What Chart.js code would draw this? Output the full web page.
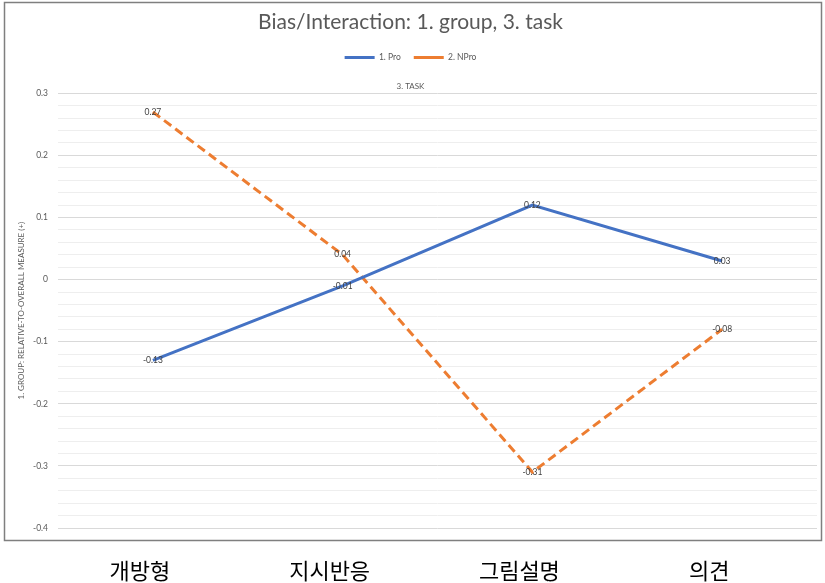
<!DOCTYPE html>
<html>
<head>
<meta charset="utf-8">
<script src="https://cdn.jsdelivr.net/npm/chart.js@4/dist/chart.umd.min.js"></script>
<style>
html,body{margin:0;padding:0;background:#fff;}
#wrap{width:825px;height:583px;position:relative;}
</style>
</head>
<body>
<div id="wrap"><canvas id="c" width="825" height="583"></canvas></div>
<script>
const categories = ["개방형", "지시반응", "그림설명", "의견"];
const seriesNames = ["1. Pro", "2. NPro"];
const proValues = [-0.13, -0.01, 0.12, 0.03];
const nproValues = [0.27, 0.04, -0.31, -0.08];
const yMin = -0.4, yMax = 0.3, yMinorStep = 0.02;
const chartTitle = "Bias/Interaction: 1. group, 3. task";
const subTitle = "3. TASK";
const yTitle = "1. GROUP: RELATIVE-TO-OVERALL MEASURE (+)";

const frame = {
  id: 'frame',
  beforeDraw(chart) {
    const ctx = chart.ctx;
    ctx.save();
    ctx.fillStyle = '#fff';
    ctx.fillRect(0, 0, chart.width, chart.height);
    ctx.restore();
  },
  afterDraw(chart) {
    const ctx = chart.ctx;
    ctx.save();
    ctx.strokeStyle = '#7f7f7f';
    ctx.lineWidth = 1.5;
    ctx.strokeRect(4.5, 2.5, 817, 538);
    ctx.restore();
  }
};

const valueLabels = {
  id: 'valueLabels',
  afterDatasetsDraw(chart) {
    const ctx = chart.ctx;
    ctx.save();
    ctx.font = '8.5px Lato, "Liberation Sans", sans-serif';
    ctx.fillStyle = '#404040';
    ctx.textAlign = 'center';
    ctx.textBaseline = 'middle';
    chart.data.datasets.forEach((ds, i) => {
      const meta = chart.getDatasetMeta(i);
      meta.data.forEach((pt, j) => {
        ctx.fillText(String(ds.data[j]), pt.x, pt.y);
      });
    });
    ctx.restore();
  }
};

new Chart(document.getElementById('c'), {
  type: 'line',
  data: {
    labels: categories,
    datasets: [
      {
        label: seriesNames[0],
        data: proValues,
        borderColor: '#4472C4',
        backgroundColor: '#4472C4',
        borderWidth: 3,
        pointRadius: 0,
        tension: 0
      },
      {
        label: seriesNames[1],
        data: nproValues,
        borderColor: '#ED7D31',
        backgroundColor: '#ED7D31',
        borderWidth: 3,
        borderDash: [9, 5],
        pointRadius: 0,
        tension: 0
      }
    ]
  },
  options: {
    responsive: false,
    animation: false,
    layout: { padding: { left: 4, right: 8, top: 2, bottom: 0 } },
    plugins: {
      title: {
        display: true,
        text: chartTitle,
        color: '#595959',
        font: { family: 'Lato, "Liberation Sans", sans-serif', size: 21, weight: 'normal' },
        padding: { top: 8, bottom: 5 }
      },
      subtitle: {
        display: true,
        text: subTitle,
        weight: 500,
        color: '#595959',
        font: { family: 'Lato, "Liberation Sans", sans-serif', size: 8, weight: 'normal' },
        padding: { top: 10, bottom: 2 }
      },
      legend: {
        display: true,
        position: 'top',
        labels: {
          usePointStyle: true,
          pointStyle: 'line',
          pointStyleWidth: 30,
          boxHeight: 9,
          padding: 13,
          color: '#595959',
          font: { family: 'Lato, "Liberation Sans", sans-serif', size: 8.5 }
        }
      },
      tooltip: { enabled: false }
    },
    scales: {
      x: {
        offset: true,
        afterFit(scale) { scale.height = 55; },
        grid: { display: false, drawTicks: false },
        border: { display: false },
        ticks: {
          color: '#000',
          padding: 29,
          labelOffset: -13,
          font: { family: '"Noto Sans CJK KR", sans-serif', size: 22 }
        }
      },
      y: {
        min: yMin,
        max: yMax,
        afterFit(scale) { scale.width = 54; },
        border: { display: false },
        grid: {
          drawTicks: false,
          color(ctx) {
            const v = Math.round(ctx.tick.value * 100);
            return v % 10 === 0 ? '#d9d9d9' : '#eeeeee';
          },
          lineWidth: 1
        },
        ticks: {
          stepSize: yMinorStep,
          autoSkip: false,
          padding: 10,
          color: '#595959',
          font: { family: 'Lato, "Liberation Sans", sans-serif', size: 8.5 },
          callback(value) {
            const v = Math.round(value * 100);
            if (v % 10 !== 0) return '';
            return String(v / 100);
          }
        },
        title: {
          display: true,
          text: yTitle,
          color: '#595959',
          font: { family: 'Lato, "Liberation Sans", sans-serif', size: 8 },
          padding: { top: 13, bottom: 0 }
        }
      }
    }
  },
  plugins: [frame, valueLabels]
});
</script>
</body>
</html>
